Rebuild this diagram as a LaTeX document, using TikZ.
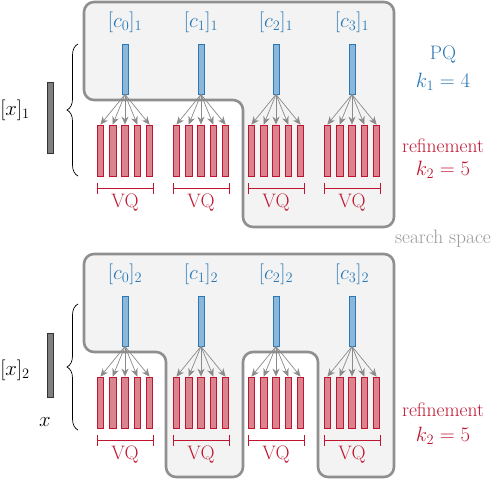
\documentclass[tikz,border=0pt]{standalone}
\usetikzlibrary{arrows.meta,decorations.pathreplacing}
\definecolor{blueF}{HTML}{8BB8DA}
\definecolor{blueD}{HTML}{2A78B6}
\definecolor{redF}{HTML}{D9848F}
\definecolor{redD}{HTML}{BF1530}
\definecolor{boxgray}{HTML}{8F8F8F}
\definecolor{boxfill}{HTML}{F3F3F3}
\definecolor{arrgray}{HTML}{8A8A8A}
\definecolor{xbar}{HTML}{7F7F7F}
\begin{document}
\begin{tikzpicture}[x=1pt,y=-1pt,
  region/.style={draw=boxgray,fill=boxfill,line width=2.6pt,rounded corners=10pt},
  cbar/.style={rectangle,draw=blueD,fill=blueF,line width=0.8pt,minimum width=6pt,minimum height=50pt,inner sep=0pt},
  rbar/.style={rectangle,draw=redD,fill=redF,line width=0.8pt,minimum width=6.5pt,minimum height=51pt,inner sep=0pt},
  xbox/.style={rectangle,draw=black!80,fill=xbar,line width=0.8pt,minimum width=6pt,inner sep=0pt},
  arr/.style={draw=arrgray,line width=0.7pt,-{Stealth[length=8pt,width=7pt]}},
  lab/.style={font=\fontsize{19.5}{23}\selectfont,inner sep=0pt},
  clab/.style={font=\fontsize{22}{26}\selectfont,inner sep=0pt,text=blueD},
  vqbr/.style={draw=redD,line width=0.8pt},
  brc/.style={decorate,decoration={brace,amplitude=11pt},line width=0.7pt}
]
\useasboundingbox (0,0) rectangle (494,480);
% search spaces
\path[region] (84,2) -- (394,2) -- (394,227) -- (243,227) -- (243,100) -- (84,100) -- cycle;
\path[region] (84,254) -- (394,254) -- (394,477) -- (318,477) -- (318,352) -- (243,352)
   -- (243,477) -- (166,477) -- (166,352) -- (84,352) -- cycle;
% groups
\foreach \p/\oy in {1/0,2/252}{
  \foreach \g/\cx in {0/125,1/201,2/276,3/352}{
    \node[clab] (cl\p\g) at (\cx,{22+\oy}) {$[c_\g]_\p$};
    \node[cbar] (c\p\g) at (\cx,{69+\oy}) {};
    \foreach \i in {0,...,4}{
      \node[rbar] (r\p\g\i) at ({\cx+(\i-2)*12.3},{150.5+\oy}) {};
      \draw[arr] (c\p\g.south) -- (r\p\g\i.north);
    }
    \draw[vqbr] ({\cx-28},{183+\oy}) -- ({\cx-28},{194+\oy});
    \draw[vqbr] ({\cx+28},{183+\oy}) -- ({\cx+28},{194+\oy});
    \draw[vqbr] ({\cx-28},{188.5+\oy}) -- ({\cx+28},{188.5+\oy});
    \node[lab,text=redD] (vq\p\g) at (\cx,{203+\oy}) {VQ};
  }
}
% left side
\node[lab] (x1) at (15,110) {$[x]_1$};
\node[lab] (x2) at (15,370) {$[x]_2$};
\node[lab] (x) at (45,422) {$x$};
\node[xbox,minimum height=71pt] (xb1) at (50,117.5) {};
\node[xbox,minimum height=64pt] (xb2) at (50,365) {};
\draw[brc] (78,176) -- (78,44);
\draw[brc] (78,430) -- (78,304);
% right labels
\node[lab,text=blueD] (pq) at (443,55) {PQ};
\node[lab,text=blueD] (k1) at (443,82) {$k_1=4$};
\node[lab,text=redD] (ref1) at (443,146) {refinement};
\node[lab,text=redD] (k21) at (443,170) {$k_2=5$};
\node[lab,text=black!40] (ss) at (443,239) {search space};
\node[lab,text=redD] (ref2) at (443,410) {refinement};
\node[lab,text=redD] (k22) at (443,436) {$k_2=5$};
\end{tikzpicture}
\end{document}
